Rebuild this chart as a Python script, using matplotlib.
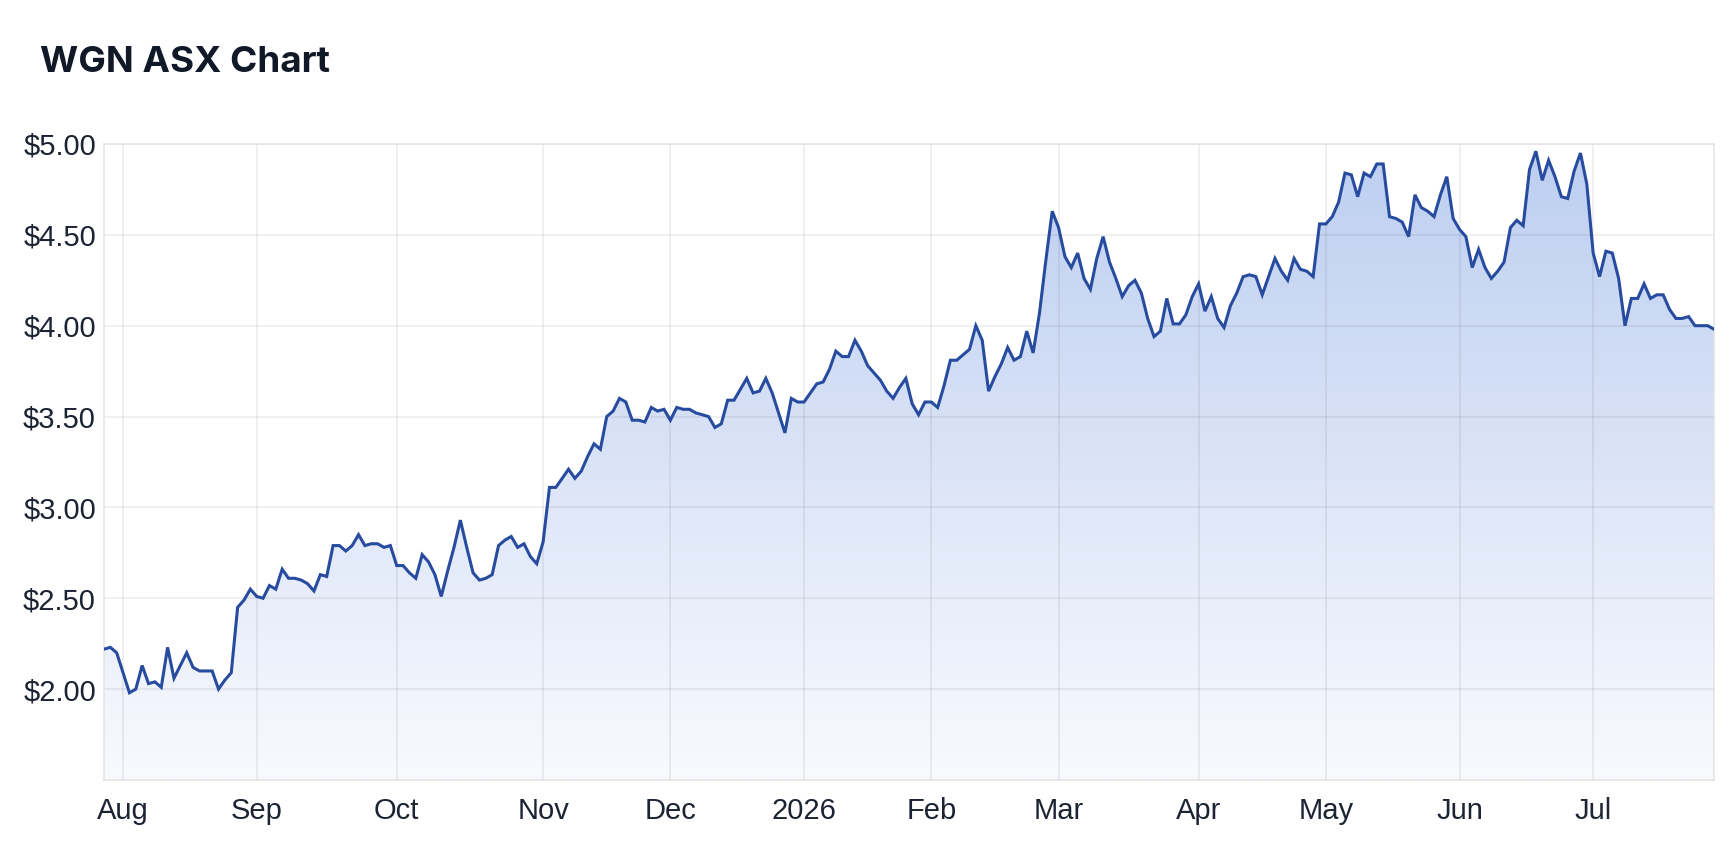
import matplotlib
matplotlib.use("Agg")
import matplotlib.pyplot as plt
import numpy as np
import pandas as pd

# Data: WGN daily closes, one value per ASX trading day
start_date = "2025-07-29"
end_date = "2026-07-28"
asx_holidays = ["2025-12-25", "2025-12-26", "2026-01-01", "2026-01-26",
                "2026-04-03", "2026-04-06", "2026-06-08"]

close = [
    # Jul (end) / Aug
    2.22, 2.23, 2.20,
    2.09, 1.98, 2.00, 2.13, 2.03, 2.04, 2.01, 2.23, 2.06, 2.13, 2.20,
    2.12, 2.10, 2.10, 2.10, 2.00, 2.05, 2.09, 2.45, 2.49, 2.55,
    # Sep
    2.51, 2.50, 2.57, 2.55, 2.66, 2.61, 2.61, 2.60, 2.58, 2.54, 2.63,
    2.62, 2.79, 2.79, 2.76, 2.79, 2.85, 2.79, 2.80, 2.80, 2.78, 2.79,
    # Oct
    2.68, 2.68, 2.64, 2.61, 2.74, 2.70, 2.63, 2.51, 2.65, 2.78, 2.93,
    2.78, 2.64, 2.60, 2.61, 2.63, 2.79, 2.82, 2.84, 2.78, 2.80, 2.73, 2.69,
    # Nov
    2.81, 3.11, 3.11, 3.16, 3.21, 3.16, 3.20, 3.28, 3.35, 3.32,
    3.50, 3.53, 3.60, 3.58, 3.48, 3.48, 3.47, 3.55, 3.53, 3.54,
    # Dec
    3.48, 3.55, 3.54, 3.54, 3.52, 3.51, 3.50, 3.44, 3.46, 3.59, 3.59,
    3.65, 3.71, 3.63, 3.64, 3.71, 3.63, 3.52, 3.41, 3.60, 3.58,
    # Jan
    3.58, 3.63, 3.68, 3.69, 3.76, 3.86, 3.83, 3.83, 3.92, 3.86,
    3.78, 3.74, 3.70, 3.64, 3.60, 3.66, 3.71, 3.57, 3.51, 3.58,
    # Feb
    3.58, 3.55, 3.67, 3.81, 3.81, 3.84, 3.87, 4.00, 3.92, 3.64,
    3.72, 3.79, 3.88, 3.81, 3.83, 3.97, 3.85, 4.07, 4.36, 4.63,
    # Mar
    4.54, 4.38, 4.32, 4.40, 4.26, 4.20, 4.37, 4.49, 4.35, 4.26, 4.16,
    4.22, 4.25, 4.18, 4.04, 3.94, 3.97, 4.15, 4.01, 4.01, 4.06, 4.16,
    # Apr
    4.23, 4.08, 4.16, 4.04, 3.99, 4.11, 4.18, 4.27, 4.28, 4.27,
    4.17, 4.27, 4.37, 4.30, 4.25, 4.37, 4.31, 4.30, 4.27, 4.56,
    # May
    4.56, 4.60, 4.68, 4.84, 4.83, 4.71, 4.84, 4.82, 4.89, 4.89, 4.60,
    4.59, 4.57, 4.49, 4.72, 4.65, 4.63, 4.60, 4.72, 4.82, 4.59,
    # Jun
    4.53, 4.49, 4.32, 4.42, 4.32, 4.26, 4.30, 4.35, 4.54, 4.58, 4.55,
    4.86, 4.96, 4.80, 4.91, 4.82, 4.71, 4.70, 4.85, 4.95, 4.78,
    # Jul
    4.40, 4.27, 4.41, 4.40, 4.26, 4.00, 4.15, 4.15, 4.23, 4.15,
    4.17, 4.17, 4.09, 4.04, 4.04, 4.05, 4.00, 4.00, 4.00, 3.98,
]
y_ticks = [2.0, 2.5, 3.0, 3.5, 4.0, 4.5, 5.0]

dates = pd.bdate_range(start_date, end_date, freq="C", holidays=asx_holidays)
dates = dates[:len(close)]
x = np.arange(len(close))
close = np.array(close)

# first trading day of each month -> tick
month_idx = [i for i in range(1, len(dates)) if dates[i].month != dates[i - 1].month]
month_lbl = [str(dates[i].year) if dates[i].month == 1 else dates[i].strftime("%b")
             for i in month_idx]

plt.rcParams["font.family"] = ["Liberation Sans", "DejaVu Sans"]

fig = plt.figure(figsize=(17.3, 8.56), dpi=100)
ax = fig.add_axes([0.0601, 0.0888, 0.9307, 0.7430])

y_lo, y_hi = 1.5, 5.0
ax.set_xlim(0, len(close) - 1)
ax.set_ylim(y_lo, y_hi)

# gradient fill under the line
poly = ax.fill_between(x, close, y_lo, color="none", lw=0)
top_rgb = np.array([188, 206, 240]) / 255
bot_rgb = np.array([249, 250, 254]) / 255
t = np.linspace(1, 0, 256)[:, None]
grad = (t * top_rgb + (1 - t) * bot_rgb)[:, None, :]
img = ax.imshow(grad, extent=[0, len(close) - 1, y_lo, y_hi], aspect="auto",
                origin="upper", zorder=0.5)
img.set_clip_path(poly.get_paths()[0], transform=ax.transData)

ax.plot(x, close, color="#274b9f", lw=2.2, zorder=3, solid_joinstyle="miter")

# axes styling
ax.set_yticks(y_ticks)
ax.set_yticklabels([f"${v:.2f}" for v in y_ticks])
ax.set_xticks(month_idx)
ax.set_xticklabels(month_lbl)
ax.tick_params(axis="both", length=0, labelsize=21, colors="#1c2333")
ax.tick_params(axis="x", pad=12.5)
ax.tick_params(axis="y", pad=5.8)
ax.grid(True, color="black", alpha=0.08, lw=1.1)
for s in ax.spines.values():
    s.set_color("#e3e3e3")
    s.set_linewidth(1.1)

fig.text(40 / 1730, 1 - 72 / 856, "WGN ASX Chart", fontsize=26.5, fontweight="bold",
         color="#111827", family=["Inter", "DejaVu Sans"], va="baseline", ha="left")

fig.savefig("out.png", dpi=100)
